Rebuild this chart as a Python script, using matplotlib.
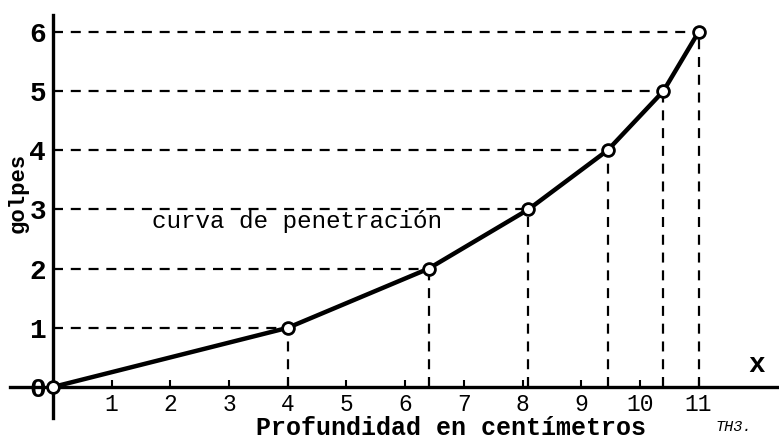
import matplotlib.pyplot as plt

# datos de la curva de penetracion
profundidad = [0, 4, 6.4, 8.1, 9.45, 10.4, 11]
golpes = [0, 1, 2, 3, 4, 5, 6]
xticks = list(range(1, 12))
yticks = list(range(0, 7))

mono = 'Liberation Mono'

fig = plt.figure(figsize=(7.79, 4.42), dpi=100)
ax = fig.add_axes([0, 0, 1, 1])
ax.set_xlim(-0.903, 12.37)
ax.set_ylim(-0.93, 6.54)

# lineas de referencia punteadas
ax.hlines(golpes[1:], 0, profundidad[1:], colors='black', lw=1.6,
          linestyles=(0, (4.5, 3.5)))
ax.vlines(profundidad[1:], 0, golpes[1:], colors='black', lw=1.6,
          linestyles=(0, (4.5, 3.5)))

ax.plot(profundidad, golpes, color='black', lw=3.2, marker='o', ms=8.5,
        mfc='white', mec='black', mew=2, zorder=5)

# ejes cruzados
for s in ['top', 'right']:
    ax.spines[s].set_visible(False)
ax.spines['left'].set_position(('data', 0))
ax.spines['bottom'].set_position(('data', 0))
ax.spines['left'].set_bounds(-0.52, 6.28)
ax.spines['bottom'].set_bounds(-0.73, 12.37)
ax.spines['left'].set_linewidth(2.4)
ax.spines['bottom'].set_linewidth(2.4)

ax.set_xticks(xticks)
ax.set_xticklabels([str(v) for v in xticks], fontfamily=mono, fontsize=16.5)
ax.set_yticks(yticks)
ax.set_yticklabels([str(v) for v in yticks], fontfamily=mono, fontsize=20,
                   fontweight='bold')
ax.tick_params(axis='x', direction='in', length=5, width=1.5, pad=4)
ax.tick_params(axis='y', length=0, pad=5)

ax.text(1.69, 2.79, 'curva de penetración', fontfamily=mono, fontsize=17.5,
        ha='left', va='center')
ax.text(-0.6, 3.28, 'golpes', fontfamily=mono, fontsize=16, fontweight='bold',
        rotation=90, ha='center', va='center')
ax.text(6.78, -0.69, 'Profundidad en centímetros', fontfamily=mono,
        fontsize=18, fontweight='bold', ha='center', va='center')
ax.text(11.99, 0.37, 'x', fontfamily=mono, fontsize=20, fontweight='bold',
        ha='center', va='center')
ax.text(11.6, -0.68, 'TH3.', fontfamily=mono, fontsize=11, fontstyle='italic',
        ha='center', va='center')

fig.savefig('out.png', dpi=100)
